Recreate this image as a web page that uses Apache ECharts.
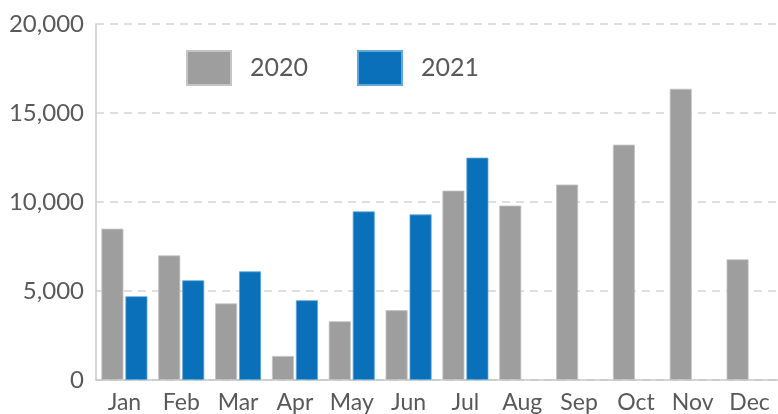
<!DOCTYPE html>
<html>
<head>
<meta charset="utf-8">
<script src="https://cdn.jsdelivr.net/npm/echarts@6/dist/echarts.min.js"></script>
<style>
  html, body { margin: 0; padding: 0; background: #fff; }
  #chart { width: 778px; height: 414px; }
</style>
</head>
<body>
<div id="chart"></div>
<script>
const months = ['Jan', 'Feb', 'Mar', 'Apr', 'May', 'Jun', 'Jul', 'Aug', 'Sep', 'Oct', 'Nov', 'Dec'];
const sales2020 = [8500, 7000, 4300, 1350, 3300, 3920, 10640, 9800, 10980, 13220, 16360, 6780];
const sales2021 = [4700, 5600, 6100, 4480, 9470, 9300, 12490, null, null, null, null, null];

const chart = echarts.init(document.getElementById('chart'));

chart.setOption({
  animation: false,
  textStyle: { fontFamily: 'Lato' },
  legend: {
    left: 181,
    top: 45,
    itemWidth: 44,
    itemHeight: 34,
    itemGap: 49,
    icon: 'rect',
    textStyle: { fontSize: 25, color: '#595959', padding: [0, 0, 0, 14] },
    data: ['2020', '2021']
  },
  grid: {
    left: 96,
    right: 0,
    top: 24,
    bottom: 33
  },
  xAxis: {
    type: 'category',
    data: months,
    axisLine: { lineStyle: { color: '#c8c8c8', width: 1.5 } },
    axisTick: { show: false },
    axisLabel: { fontSize: 23, color: '#595959', margin: 11, interval: 0, hideOverlap: false }
  },
  yAxis: {
    type: 'value',
    min: 0,
    max: 20000,
    interval: 5000,
    axisLine: { show: true, lineStyle: { color: '#c8c8c8', width: 1.5 } },
    axisLabel: {
      fontSize: 24,
      color: '#595959',
      margin: 12,
      formatter: v => v.toLocaleString('en-US')
    },
    splitLine: { lineStyle: { color: '#d4d4d4', type: [8, 6], width: 1.5 } }
  },
  series: [
    {
      name: '2020',
      type: 'bar',
      data: sales2020,
      barWidth: 22,
      barGap: '9%',
      itemStyle: { color: '#9e9e9e', borderColor: '#c4c4c4', borderWidth: 0.8 }
    },
    {
      name: '2021',
      type: 'bar',
      data: sales2021,
      barWidth: 22,
      itemStyle: { color: '#0a70ba', borderColor: '#5fa7dc', borderWidth: 0.8 }
    }
  ]
});
</script>
</body>
</html>
